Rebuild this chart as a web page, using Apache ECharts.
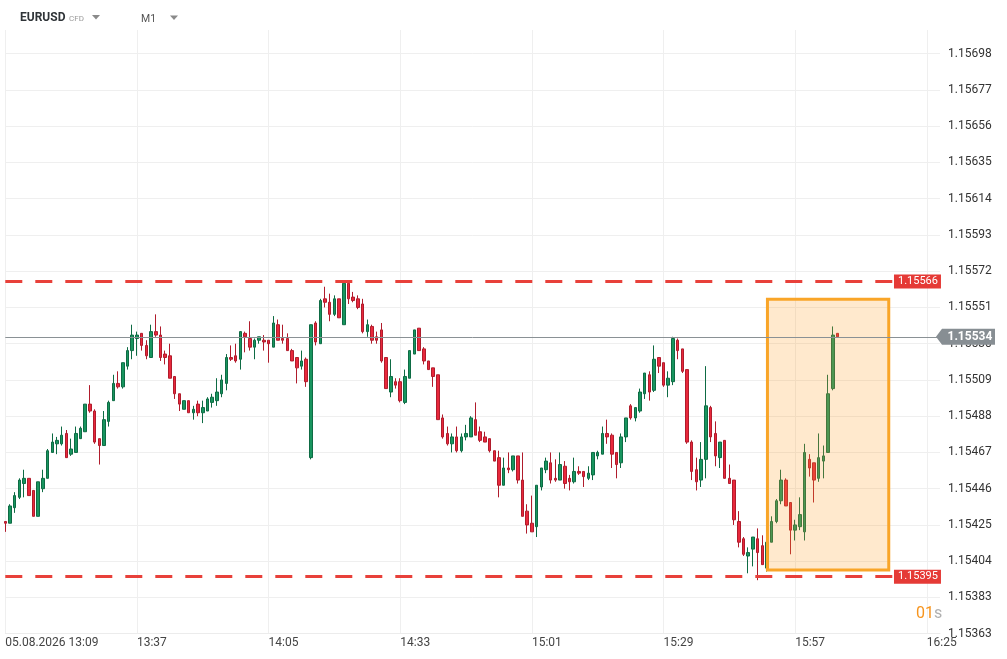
<!DOCTYPE html>
<html>
<head>
<meta charset="utf-8">
<script src="https://cdn.jsdelivr.net/npm/echarts@6/dist/echarts.min.js"></script>
<style>
html,body{margin:0;padding:0;background:#ffffff;}
#chart{width:1007px;height:659px;}
</style>
</head>
<body>
<div id="chart"></div>
<script>
// ---- data ----
const symbolName = 'EURUSD';
const timeframe = 'M1';
const xTickLabels = ['05.08.2026 13:09','13:37','14:05','14:33','15:01','15:29','15:57','16:25'];
const yTickLabels = ['1.15363','1.15383','1.15404','1.15425','1.15446','1.15467','1.15488','1.15509','1.15530','1.15551','1.15572','1.15593','1.15614','1.15635','1.15656','1.15677','1.15698'];

const opens = [
1.15427,1.15426,1.15435,1.15441,1.15449,1.15452,1.15445,1.15430,1.15446,1.15452,
1.15467,1.15472,1.15472,1.15478,1.15466,1.15467,1.15475,1.15479,1.15495,1.15491,
1.15475,1.15471,1.15485,1.15497,1.15507,1.15505,1.15517,1.15526,1.15533,1.15536,
1.15529,1.15522,1.15537,1.15535,1.15524,1.15523,1.15511,1.15501,1.15492,1.15497,
1.15490,1.15495,1.15490,1.15491,1.15496,1.15497,1.15501,1.15507,1.15522,1.15523,
1.15521,1.15536,1.15533,1.15528,1.15532,1.15532,1.15532,1.15528,1.15541,1.15533,
1.15533,1.15526,1.15522,1.15517,1.15521,1.15464,1.15542,1.15530,1.15556,1.15554,
1.15547,1.15556,1.15541,1.15565,1.15557,1.15556,1.15553,1.15537,1.15540,1.15534,
1.15538,1.15522,1.15502,1.15508,1.15508,1.15496,1.15510,1.15524,1.15539,1.15527,
1.15520,1.15516,1.15512,1.15487,1.15478,1.15472,1.15476,1.15468,1.15476,1.15476,
1.15486,1.15479,1.15476,1.15475,1.15468,1.15464,1.15448,1.15458,1.15457,1.15465,
1.15451,1.15433,1.15426,1.15424,1.15447,1.15457,1.15461,1.15452,1.15451,1.15459,
1.15452,1.15450,1.15456,1.15456,1.15452,1.15454,1.15465,1.15466,1.15478,1.15477,
1.15467,1.15461,1.15476,1.15494,1.15487,1.15491,1.15501,1.15512,1.15503,1.15522,
1.15519,1.15506,1.15508,1.15532,1.15527,1.15515,1.15473,1.15457,1.15451,1.15463,
1.15493,1.15478,1.15464,1.15474,1.15452,1.15451,1.15427,1.15417,1.15407,1.15411,
1.15417,1.15413,1.15400,1.15415,1.15427,1.15439,1.15451,1.15438,1.15422,1.15424,
1.15421,1.15463,1.15461,1.15452,1.15462,1.15467,1.15504,1.15536
];
const closes = [
1.15426,1.15436,1.15442,1.15451,1.15452,1.15442,1.15430,1.15450,1.15452,1.15468,
1.15473,1.15474,1.15477,1.15464,1.15469,1.15478,1.15481,1.15495,1.15491,1.15473,
1.15471,1.15486,1.15496,1.15507,1.15505,1.15519,1.15526,1.15535,1.15535,1.15529,
1.15523,1.15537,1.15535,1.15522,1.15522,1.15510,1.15501,1.15495,1.15497,1.15490,
1.15492,1.15490,1.15493,1.15498,1.15499,1.15502,1.15509,1.15522,1.15521,1.15520,
1.15537,1.15534,1.15528,1.15532,1.15534,1.15531,1.15530,1.15542,1.15532,1.15532,
1.15526,1.15520,1.15516,1.15520,1.15508,1.15541,1.15531,1.15555,1.15554,1.15547,
1.15556,1.15545,1.15565,1.15556,1.15555,1.15551,1.15537,1.15541,1.15532,1.15532,
1.15520,1.15504,1.15511,1.15506,1.15497,1.15511,1.15526,1.15538,1.15526,1.15520,
1.15515,1.15511,1.15486,1.15476,1.15472,1.15476,1.15468,1.15476,1.15478,1.15487,
1.15477,1.15474,1.15473,1.15468,1.15462,1.15448,1.15458,1.15457,1.15465,1.15451,
1.15430,1.15425,1.15421,1.15448,1.15458,1.15462,1.15451,1.15451,1.15460,1.15449,
1.15450,1.15456,1.15455,1.15453,1.15455,1.15467,1.15467,1.15478,1.15476,1.15466,
1.15460,1.15476,1.15487,1.15487,1.15493,1.15502,1.15513,1.15502,1.15521,1.15517,
1.15506,1.15510,1.15533,1.15526,1.15514,1.15473,1.15456,1.15450,1.15463,1.15494,
1.15476,1.15465,1.15473,1.15452,1.15449,1.15428,1.15415,1.15408,1.15409,1.15418,
1.15409,1.15402,1.15415,1.15427,1.15439,1.15451,1.15436,1.15422,1.15425,1.15431,
1.15467,1.15458,1.15451,1.15464,1.15465,1.15501,1.15535,1.15534
];
const lows = [
1.15421,1.15426,1.15432,1.15440,1.15441,1.15442,1.15430,1.15430,1.15444,1.15452,
1.15467,1.15466,1.15471,1.15464,1.15465,1.15467,1.15475,1.15479,1.15490,1.15472,
1.15460,1.15471,1.15482,1.15497,1.15504,1.15504,1.15515,1.15521,1.15523,1.15526,
1.15521,1.15522,1.15534,1.15520,1.15518,1.15510,1.15498,1.15491,1.15492,1.15490,
1.15486,1.15488,1.15484,1.15491,1.15493,1.15494,1.15499,1.15503,1.15520,1.15519,
1.15515,1.15525,1.15526,1.15521,1.15530,1.15526,1.15519,1.15528,1.15532,1.15530,
1.15526,1.15520,1.15507,1.15515,1.15505,1.15463,1.15529,1.15530,1.15551,1.15543,
1.15546,1.15545,1.15541,1.15553,1.15554,1.15550,1.15536,1.15534,1.15530,1.15530,
1.15519,1.15504,1.15499,1.15504,1.15496,1.15495,1.15510,1.15524,1.15526,1.15518,
1.15515,1.15505,1.15486,1.15475,1.15471,1.15467,1.15467,1.15467,1.15474,1.15476,
1.15477,1.15473,1.15473,1.15467,1.15462,1.15441,1.15448,1.15455,1.15456,1.15449,
1.15430,1.15420,1.15421,1.15418,1.15445,1.15455,1.15449,1.15450,1.15451,1.15446,
1.15445,1.15449,1.15454,1.15447,1.15451,1.15451,1.15463,1.15466,1.15472,1.15458,
1.15452,1.15458,1.15473,1.15486,1.15485,1.15490,1.15498,1.15497,1.15502,1.15513,
1.15505,1.15499,1.15506,1.15521,1.15513,1.15472,1.15451,1.15445,1.15447,1.15452,
1.15473,1.15459,1.15458,1.15452,1.15449,1.15425,1.15412,1.15407,1.15397,1.15401,
1.15393,1.15402,1.15398,1.15415,1.15426,1.15437,1.15436,1.15408,1.15416,1.15422,
1.15416,1.15453,1.15438,1.15450,1.15452,1.15467,1.15503,1.15534
];
const highs = [
1.15427,1.15437,1.15444,1.15452,1.15457,1.15452,1.15445,1.15450,1.15457,1.15469,
1.15478,1.15476,1.15482,1.15480,1.15475,1.15482,1.15482,1.15495,1.15506,1.15492,
1.15475,1.15491,1.15497,1.15512,1.15514,1.15519,1.15528,1.15541,1.15537,1.15536,
1.15532,1.15541,1.15547,1.15540,1.15526,1.15530,1.15511,1.15501,1.15497,1.15497,
1.15494,1.15497,1.15497,1.15499,1.15501,1.15510,1.15512,1.15524,1.15529,1.15530,
1.15537,1.15537,1.15543,1.15533,1.15534,1.15535,1.15532,1.15546,1.15544,1.15541,
1.15536,1.15527,1.15522,1.15526,1.15522,1.15541,1.15543,1.15556,1.15563,1.15559,
1.15558,1.15556,1.15565,1.15565,1.15560,1.15558,1.15556,1.15544,1.15541,1.15537,
1.15542,1.15522,1.15521,1.15510,1.15510,1.15515,1.15526,1.15538,1.15539,1.15528,
1.15520,1.15516,1.15512,1.15489,1.15482,1.15478,1.15482,1.15478,1.15483,1.15488,
1.15496,1.15482,1.15479,1.15475,1.15468,1.15468,1.15464,1.15467,1.15465,1.15465,
1.15467,1.15437,1.15442,1.15448,1.15458,1.15464,1.15467,1.15463,1.15467,1.15462,
1.15454,1.15464,1.15459,1.15456,1.15459,1.15467,1.15468,1.15482,1.15486,1.15478,
1.15467,1.15478,1.15487,1.15495,1.15493,1.15504,1.15513,1.15514,1.15529,1.15522,
1.15519,1.15514,1.15534,1.15533,1.15527,1.15515,1.15474,1.15464,1.15473,1.15517,
1.15494,1.15485,1.15473,1.15474,1.15460,1.15451,1.15433,1.15418,1.15412,1.15418,
1.15423,1.15419,1.15415,1.15430,1.15440,1.15457,1.15452,1.15438,1.15428,1.15441,
1.15472,1.15466,1.15461,1.15478,1.15471,1.15512,1.15540,1.15536
];

const resistanceLevel = 1.15566;
const supportLevel = 1.15395;
const lastPrice = 1.15534;
// highlighted box: minutes from first candle and price range
const boxMinutes = [162.1, 187.9];
const boxPrices = [1.155558, 1.153989];

// ---- axes ----
const X_STEP = 28;
const X_MAX = 198.8;
const LEVEL_LINE_END = 188.8;
const Y_MIN = 1.15362;
const Y_MAX = 1.1571173;
const Y_STEP = 0.00021;

const candles = opens.map((o, i) => [i, o, closes[i], lows[i], highs[i]]);

const chart = echarts.init(document.getElementById('chart'), null, {renderer: 'canvas'});
const FONT = 'Roboto, "Noto Sans", sans-serif';

const levelLabel = (txt) => ({
  show: true, position: 'end', distance: 1, formatter: txt,
  color: '#fff', fontSize: 11, fontFamily: FONT, backgroundColor: '#e53a36',
  padding: [2, 3, 1, 4]
});

const option = {
  animation: false,
  backgroundColor: '#ffffff',
  grid: {left: 5.3, right: 67, top: 30, bottom: 25.3, containLabel: false},
  xAxis: {
    type: 'value', min: 0, max: X_MAX, interval: X_STEP,
    axisLine: {show: true, lineStyle: {color: '#ececec', width: 1}},
    axisTick: {show: false},
    splitLine: {show: true, showMaxLine: false, lineStyle: {color: '#efefef', width: 1}},
    axisLabel: {
      color: '#444', fontSize: 12, fontFamily: FONT, align: 'left', margin: 3,
      showMaxLabel: false,
      formatter: function (v) {
        const k = Math.round(v / X_STEP);
        if (Math.abs(v - k * X_STEP) < 1e-6 && k >= 0 && k < xTickLabels.length) return xTickLabels[k];
        return '';
      }
    }
  },
  yAxis: {
    type: 'value', position: 'right', min: Y_MIN, max: Y_MAX, interval: Y_STEP, scale: true,
    axisLine: {show: false}, axisTick: {show: false},
    splitLine: {show: true, showMaxLine: false, lineStyle: {color: '#efefef', width: 1}},
    axisLabel: {
      color: '#333', fontSize: 12, fontFamily: FONT, margin: 8,
      formatter: function (v) {
        const k = Math.round((v - Y_MIN) / Y_STEP);
        if (Math.abs(v - (Y_MIN + k * Y_STEP)) < 1e-7 && k >= 0 && k < yTickLabels.length) return yTickLabels[k];
        return '';
      }
    }
  },
  series: [{
    type: 'candlestick',
    data: candles,
    encode: {x: 0, y: [1, 2, 3, 4]},
    barWidth: 3,
    clip: false,
    itemStyle: {
      color: '#18955f', color0: '#e8283c',
      borderColor: '#0e6b44', borderColor0: '#b01c2c', borderWidth: 1
    },
    markLine: {
      silent: true, symbol: ['none', 'none'], animation: false,
      data: [
        [
          {coord: [0, resistanceLevel],
           lineStyle: {color: '#e8403a', width: 3, type: [17, 13]},
           label: levelLabel('1.15566')},
          {coord: [LEVEL_LINE_END, resistanceLevel]}
        ],
        [
          {coord: [0, supportLevel],
           lineStyle: {color: '#e8403a', width: 3, type: [17, 13]},
           label: levelLabel('1.15395')},
          {coord: [LEVEL_LINE_END, supportLevel]}
        ],
        [
          {coord: [0, lastPrice],
           lineStyle: {color: '#8a9195', width: 1, type: 'solid'},
           label: {show: false}},
          {coord: [X_MAX, lastPrice]}
        ]
      ]
    },
    markArea: {
      silent: true, z: 4,
      label: {show: false},
      itemStyle: {color: 'rgba(255,160,40,0.23)', borderColor: '#f9a528', borderWidth: 3},
      data: [[{coord: [boxMinutes[0], boxPrices[0]]}, {coord: [boxMinutes[1], boxPrices[1]]}]]
    }
  }]
};
chart.setOption(option);

const py = chart.convertToPixel({yAxisIndex: 0}, lastPrice);
chart.setOption({
  graphic: [
    {type: 'text', left: 20, top: 12, z: 100,
     style: {text: symbolName, font: 'bold 12px ' + FONT, fill: '#2f3438'}},
    {type: 'text', left: 69, top: 14.5, z: 100,
     style: {text: 'CFD', font: '8px ' + FONT, fill: '#9a9a9a'}},
    {type: 'polygon', z: 100, shape: {points: [[92, 15], [100, 15], [96, 19.5]]}, style: {fill: '#8a8a8a'}},
    {type: 'text', left: 141, top: 14, z: 100,
     style: {text: timeframe, font: '10.5px ' + FONT, fill: '#555'}},
    {type: 'polygon', z: 100, shape: {points: [[170, 15.5], [178, 15.5], [174, 20]]}, style: {fill: '#8a8a8a'}},
    {type: 'polygon', z: 100,
     shape: {points: [[936, py], [942, py - 8], [995, py - 8], [995, py + 8], [942, py + 8]]},
     style: {fill: '#878e93'}},
    {type: 'text', x: 947.5, y: py, z: 101,
     style: {text: '1.15534', font: 'bold 12px ' + FONT, fill: '#ffffff', verticalAlign: 'middle'}},
    {type: 'text', x: 916, y: 614, z: 100,
     style: {text: '{a|01}{b|s}', verticalAlign: 'middle',
             rich: {a: {fontSize: 16, fontFamily: FONT, fill: '#f7941d', color: '#f7941d'},
                    b: {fontSize: 16, fontFamily: FONT, fill: '#b0b0b0', color: '#b0b0b0'}}}}
  ]
});
</script>
</body>
</html>
